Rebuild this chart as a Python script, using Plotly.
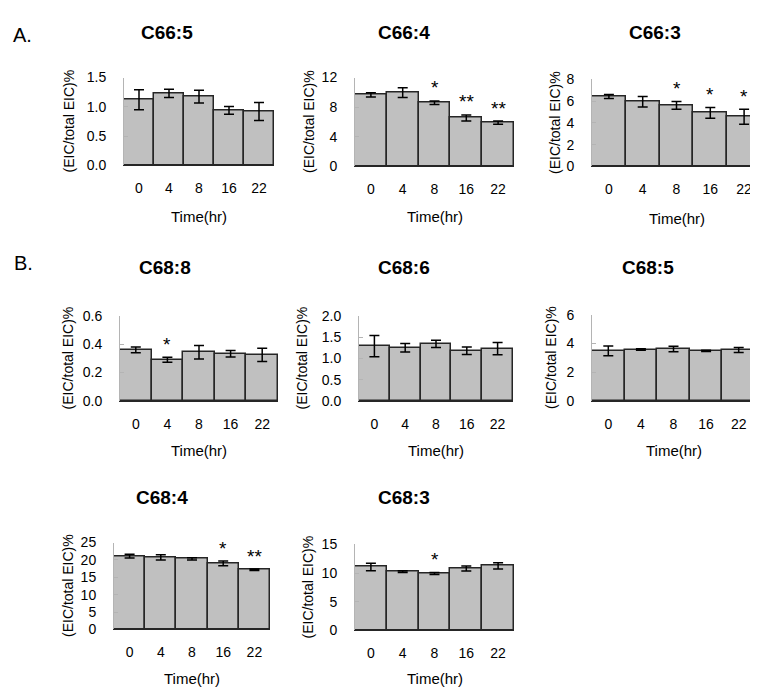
import plotly.graph_objects as go

W, H = 758, 691

# ---------------- data ----------------
time_labels = ["0", "4", "8", "16", "22"]

c66_5_mean = [1.12, 1.23, 1.175, 0.94, 0.92]
c66_5_err = [0.17, 0.07, 0.11, 0.065, 0.155]
c66_5_sig = ["", "", "", "", ""]

c66_4_mean = [9.66, 9.97, 8.6, 6.55, 5.91]
c66_4_err = [0.3, 0.65, 0.24, 0.4, 0.22]
c66_4_sig = ["", "", "*", "**", "**"]

c66_3_mean = [6.44, 5.95, 5.62, 4.93, 4.57]
c66_3_err = [0.18, 0.48, 0.36, 0.5, 0.7]
c66_3_sig = ["", "", "*", "*", "*"]

c68_8_mean = [0.36, 0.29, 0.343, 0.332, 0.325]
c68_8_err = [0.02, 0.018, 0.048, 0.023, 0.047]
c68_8_sig = ["", "*", "", "", ""]

c68_6_mean = [1.29, 1.25, 1.34, 1.18, 1.23]
c68_6_err = [0.25, 0.1, 0.085, 0.09, 0.145]
c68_6_sig = ["", "", "", "", ""]

c68_5_mean = [3.49, 3.58, 3.62, 3.49, 3.55]
c68_5_err = [0.34, 0.05, 0.2, 0.04, 0.18]
c68_5_sig = ["", "", "", "", ""]

c68_4_mean = [21.08, 20.7, 20.3, 19.0, 17.16]
c68_4_err = [0.55, 0.75, 0.3, 0.65, 0.2]
c68_4_sig = ["", "", "", "*", "**"]

c68_3_mean = [11.08, 10.28, 9.94, 10.8, 11.25]
c68_3_err = [0.65, 0.15, 0.17, 0.45, 0.55]
c68_3_sig = ["", "", "*", "", ""]

titles = ["C66:5", "C66:4", "C66:3", "C68:8", "C68:6", "C68:5", "C68:4", "C68:3"]
means = [c66_5_mean, c66_4_mean, c66_3_mean, c68_8_mean, c68_6_mean, c68_5_mean, c68_4_mean, c68_3_mean]
errs = [c66_5_err, c66_4_err, c66_3_err, c68_8_err, c68_6_err, c68_5_err, c68_4_err, c68_3_err]
sigs = [c66_5_sig, c66_4_sig, c66_3_sig, c68_8_sig, c68_6_sig, c68_5_sig, c68_4_sig, c68_3_sig]
y_max = [1.5, 12, 8, 0.6, 2.0, 6, 25, 15]
y_step = [0.5, 4, 2, 0.2, 0.5, 2, 5, 5]
y_fmt = [".1f", "d", "d", ".1f", ".1f", "d", "d", "d"]

# ---------------- layout geometry (pixels) ----------------
boxes = [  # x0, x1, ytop, ybottom
    (116, 266, 63, 153),
    (347, 506, 63, 154),
    (584, 753, 65, 154),
    (112, 270, 307, 394),
    (351, 505, 307, 394),
    (584, 747, 306, 394),
    (106, 262, 539, 628),
    (347, 506, 541, 629),
]
title_pos = [(159, 17), (396, 17), (647, 17), (157, 257), (396, 257), (640, 257), (154, 493), (396, 493)]
ytitle_x = [61, 301, 547, 60, 294, 543, 60, 300]
xtitle_y = [205, 205, 207, 445, 445, 445, 678, 678]

FONT = "Liberation Sans, Arial, sans-serif"
AXIS_GRAY = "#b4b4b4"

def px(x):
    return x / W

def py(y):
    return 1 - y / H

fig = go.Figure()
annotations = []
layout_axes = {}
idx = list(range(len(time_labels)))

for i in range(8):
    n = "" if i == 0 else str(i + 1)
    x0, x1, yt, yb = boxes[i]
    fig.add_trace(go.Bar(
        x=idx, y=means[i],
        xaxis="x" + n, yaxis="y" + n,
        marker=dict(color="#c0c0c0", line=dict(color="#262626", width=1.5)),
        error_y=dict(type="data", array=errs[i], color="black", thickness=1.5, width=5),
        showlegend=False, hoverinfo="skip",
    ))
    layout_axes["xaxis" + n] = dict(
        domain=[px(x0), px(x1)], anchor="y" + n, range=[-0.5, len(idx) - 0.5],
        tickvals=idx, ticktext=time_labels,
        showgrid=False, zeroline=False, showline=True, linecolor="#262626", linewidth=1,
        ticks="", ticklabelstandoff=10,
        tickfont=dict(family=FONT, size=14, color="black"), fixedrange=True,
    )
    nt = int(round(y_max[i] / y_step[i]))
    tv = [k * y_step[i] for k in range(nt + 1)]
    tt = [format(v, y_fmt[i]) if y_fmt[i] != "d" else str(int(round(v))) for v in tv]
    layout_axes["yaxis" + n] = dict(
        domain=[py(yb), py(yt)], anchor="x" + n, range=[0, y_max[i]],
        tickvals=tv, ticktext=tt,
        showgrid=False, zeroline=False, showline=True, linecolor=AXIS_GRAY, linewidth=1,
        ticks="inside", ticklen=4, tickcolor=AXIS_GRAY, ticklabelstandoff=14,
        tickfont=dict(family=FONT, size=14, color="black"), fixedrange=True,
    )
    # panel title
    tx, ty = title_pos[i]
    annotations.append(dict(text="<b>" + titles[i] + "</b>", x=px(tx), y=py(ty), xref="paper", yref="paper",
                            showarrow=False, xanchor="center", yanchor="middle",
                            font=dict(family=FONT, size=19, color="black")))
    # y title
    annotations.append(dict(text="(EIC/total EIC)%", x=px(ytitle_x[i]), y=py((yt + yb) / 2),
                            xref="paper", yref="paper", textangle=-90, showarrow=False,
                            xanchor="center", yanchor="middle",
                            font=dict(family=FONT, size=14, color="black")))
    # x title
    annotations.append(dict(text="Time(hr)", x=px((x0 + x1) / 2), y=py(xtitle_y[i]),
                            xref="paper", yref="paper", showarrow=False,
                            xanchor="center", yanchor="middle",
                            font=dict(family=FONT, size=15, color="black")))
    # significance stars
    for k, s in enumerate(sigs[i]):
        if s:
            annotations.append(dict(text=s, x=k, y=means[i][k] + errs[i][k],
                                    xref="x" + n, yref="y" + n, showarrow=False,
                                    xanchor="center", yanchor="middle", yshift=13,
                                    font=dict(family=FONT, size=19, color="black")))

annotations.append(dict(text="A.", x=px(14), y=py(19), xref="paper", yref="paper", showarrow=False,
                        xanchor="center", yanchor="middle", font=dict(family=FONT, size=20, color="black")))
annotations.append(dict(text="B.", x=px(15), y=py(253), xref="paper", yref="paper", showarrow=False,
                        xanchor="center", yanchor="middle", font=dict(family=FONT, size=20, color="black")))

fig.update_layout(
    width=W, height=H, margin=dict(l=0, r=0, t=0, b=0),
    paper_bgcolor="white", plot_bgcolor="white",
    bargap=0, annotations=annotations,
    font=dict(family=FONT, color="black"),
    **layout_axes,
)

fig.write_html("out.html", config={"displayModeBar": False})
